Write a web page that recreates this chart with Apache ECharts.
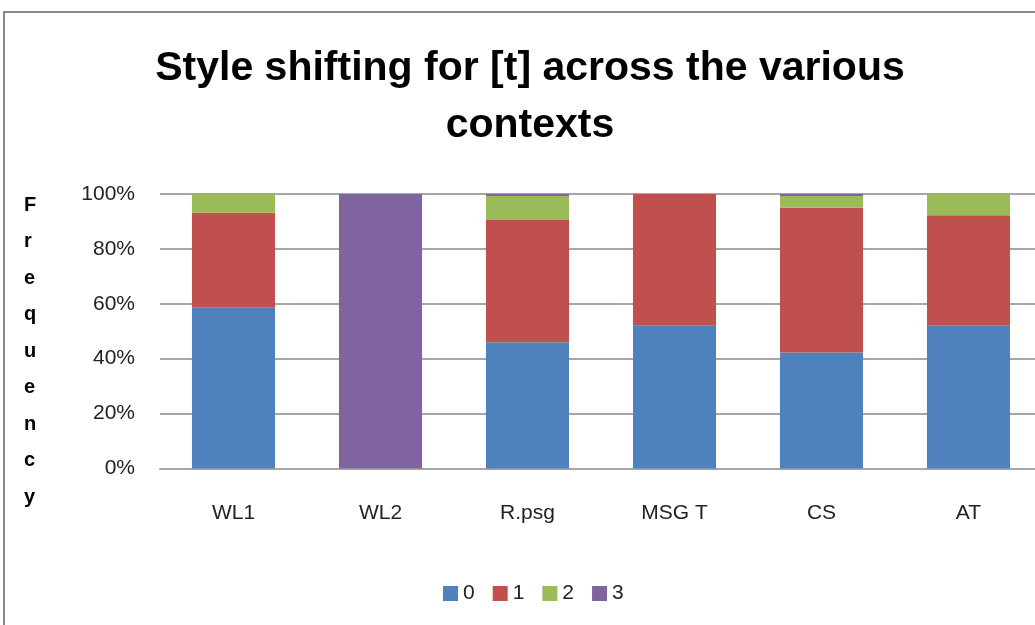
<!DOCTYPE html>
<html style="height: 100%">
<head>
    <meta charset="utf-8">
</head>
<body style="height: 100%; margin: 0; overflow: hidden">
    <div id="container" style="width: 1045px; height: 625px"></div>
    <script type="text/javascript" src="https://cdn.jsdelivr.net/npm/echarts@6/dist/echarts.min.js"></script>
    <script type="text/javascript">
        var contexts = ['WL1', 'WL2', 'R.psg', 'MSG T', 'CS', 'AT'];
        var seriesNames = ['0', '1', '2', '3'];
        var val0 = [58.6, 0, 46.0, 52.0, 42.3, 52.0];
        var val1 = [34.6, 0, 44.5, 48.0, 52.7, 40.3];
        var val2 = [6.8, 0, 8.8, 0, 4.3, 7.7];
        var val3 = [0, 100, 0.7, 0, 0.7, 0];
        var colors = ['#4F81BD', '#C0504D', '#9BBB59', '#8064A2'];

        var dom = document.getElementById("container");
        var myChart = echarts.init(dom);
        var font = '"Liberation Sans", Arial, sans-serif';

        var allVals = [val0, val1, val2, val3];
        var series = allVals.map(function (vals, i) {
            return {
                name: seriesNames[i],
                type: 'bar',
                stack: 'total',
                barCategoryGap: '43.5%',
                itemStyle: { color: colors[i] },
                data: vals
            };
        });

        var option = {
            animation: false,
            backgroundColor: '#fff',
            color: colors,
            title: {
                text: 'Style shifting for [t] across the various\ncontexts',
                left: 525,
                textAlign: 'center',
                top: 35,
                textStyle: {
                    fontFamily: font,
                    fontWeight: 'bold',
                    fontSize: 41,
                    lineHeight: 57,
                    color: '#000'
                }
            },
            legend: {
                top: 578,
                left: 438,
                itemWidth: 15,
                itemHeight: 15,
                itemGap: 18,
                icon: 'rect',
                textStyle: { fontFamily: font, fontSize: 21, color: '#222' },
                data: seriesNames
            },
            grid: {
                left: 160,
                right: 3,
                top: 194,
                height: 274.5,
                containLabel: false
            },
            xAxis: {
                type: 'category',
                data: contexts,
                axisLine: { lineStyle: { color: '#a6a6a6', width: 2 } },
                axisTick: { show: false },
                axisLabel: { fontFamily: font, fontSize: 21, color: '#222', margin: 34 }
            },
            yAxis: {
                type: 'value',
                min: 0,
                max: 100,
                interval: 20,
                axisLine: { show: false },
                axisTick: { show: false },
                axisLabel: {
                    fontFamily: font,
                    fontSize: 21,
                    color: '#222',
                    margin: 25,
                    formatter: '{value}%'
                },
                splitLine: { lineStyle: { color: '#a6a6a6', width: 2 } }
            },
            graphic: [{
                type: 'rect',
                shape: { x: 4, y: 12, width: 1100, height: 700 },
                style: { fill: 'none', stroke: '#888', lineWidth: 2 },
                silent: true
            }, {
                type: 'text',
                left: 24,
                top: 187,
                style: {
                    text: 'F\nr\ne\nq\nu\ne\nn\nc\ny',
                    font: 'bold 20px ' + font,
                    lineHeight: 36.5,
                    align: 'center',
                    fill: '#000'
                }
            }],
            series: series
        };

        myChart.setOption(option);
    </script>
</body>
</html>
